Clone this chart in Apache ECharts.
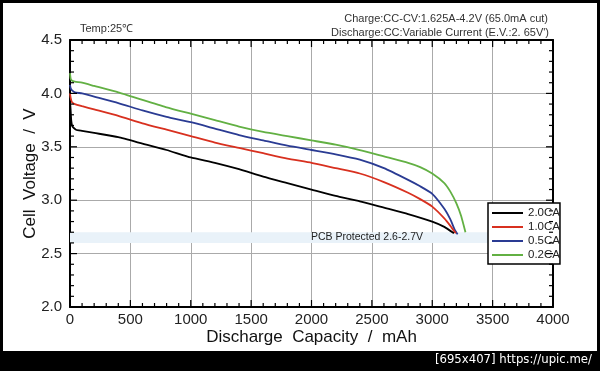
<!DOCTYPE html>
<html>
<head>
<meta charset="utf-8">
<script src="https://cdn.jsdelivr.net/npm/echarts@6/dist/echarts.min.js"></script>
<style>
html,body{margin:0;padding:0;background:#000;}
#chart{width:600px;height:371px;}
</style>
</head>
<body>
<div id="chart"></div>
<script>
// ---- data (capacity in mAh, voltage in V) ----
const seriesNames = ['2.0CA', '1.0CA', '0.5CA', '0.2CA'];

const cap20 = [0, 5, 10, 20, 50, 100, 200, 400, 600, 800, 1000, 1200, 1400, 1600, 1800, 2000, 2200, 2400, 2600, 2800, 3000, 3100, 3180];
const volt20 = [3.93, 3.85, 3.75, 3.69, 3.66, 3.65, 3.63, 3.59, 3.53, 3.47, 3.40, 3.35, 3.29, 3.22, 3.16, 3.10, 3.04, 2.99, 2.93, 2.87, 2.80, 2.75, 2.69];

const cap10 = [0, 5, 15, 40, 100, 200, 400, 600, 800, 1000, 1200, 1400, 1600, 1800, 2000, 2200, 2400, 2600, 2800, 2900, 3000, 3100, 3150, 3195];
const volt10 = [4.00, 3.96, 3.92, 3.90, 3.88, 3.85, 3.79, 3.72, 3.66, 3.60, 3.54, 3.49, 3.44, 3.39, 3.35, 3.30, 3.25, 3.17, 3.07, 3.01, 2.94, 2.83, 2.76, 2.69];

const cap05 = [0, 5, 15, 40, 100, 200, 400, 600, 800, 1000, 1200, 1400, 1600, 1800, 2000, 2200, 2400, 2600, 2800, 2900, 3000, 3100, 3150, 3188, 3210];
const volt05 = [4.08, 4.05, 4.03, 4.01, 4.00, 3.97, 3.91, 3.84, 3.78, 3.73, 3.67, 3.61, 3.56, 3.51, 3.47, 3.43, 3.38, 3.30, 3.19, 3.13, 3.06, 2.92, 2.82, 2.72, 2.68];

const cap02 = [0, 5, 15, 40, 100, 200, 400, 600, 800, 1000, 1200, 1400, 1600, 1800, 2000, 2200, 2400, 2600, 2800, 2900, 3000, 3100, 3150, 3200, 3240, 3275];
const volt02 = [4.19, 4.14, 4.12, 4.11, 4.10, 4.07, 4.01, 3.94, 3.87, 3.81, 3.75, 3.69, 3.64, 3.60, 3.56, 3.52, 3.47, 3.41, 3.35, 3.31, 3.25, 3.16, 3.08, 2.97, 2.85, 2.70];

const xTicks = [0, 500, 1000, 1500, 2000, 2500, 3000, 3500, 4000];
const yTicks = [2.0, 2.5, 3.0, 3.5, 4.0, 4.5];
const xMinorStep = 100;
const yMinorStep = 0.1;

const pcbBand = [2.6, 2.7];
const pcbBandCapRange = [0, 3480];
const pcbLabel = 'PCB Protected 2.6-2.7V';

const titleTemp = 'Temp:25\u2103';
const titleCharge = 'Charge:CC-CV:1.625A-4.2V (65.0mA cut)';
const titleDischarge = "Discharge:CC:Variable Current (E.V.:2. 65V')";
const footerText = '[695x407] https://upic.me/';

const colors = ['#000000', '#d8301f', '#2a3b93', '#62b043'];

function pairs(xs, ys) { return xs.map((x, i) => [x, ys[i]]); }

const FONT = '"Liberation Sans", Arial, sans-serif';
const chart = echarts.init(document.getElementById('chart'));

const xMin = xTicks[0], xMax = xTicks[xTicks.length - 1];
const yMin = yTicks[0], yMax = yTicks[yTicks.length - 1];

function lineSeries(i, xs, ys, extra) {
  return Object.assign({
    name: seriesNames[i], type: 'line', data: pairs(xs, ys), showSymbol: false,
    smooth: 0.15,
    lineStyle: { width: 1.8, color: colors[i] }, itemStyle: { color: colors[i] }, z: 5 - i
  }, extra || {});
}

const axisLineStyle = { color: '#000', width: 2 };

const frameGraphics = [
  { type: 'rect', shape: { x: 0, y: 0, width: 600, height: 3 }, style: { fill: '#000' } },
  { type: 'rect', shape: { x: 0, y: 0, width: 3, height: 371 }, style: { fill: '#000' } },
  { type: 'rect', shape: { x: 597, y: 0, width: 3, height: 371 }, style: { fill: '#000' } },
  { type: 'rect', shape: { x: 0, y: 351, width: 600, height: 20 }, style: { fill: '#000' } },
  { type: 'text', right: 8, top: 353, z: 10, style: { text: footerText, fill: '#fff', font: '13px "DejaVu Sans Condensed", sans-serif' } }
];

const option = {
  backgroundColor: '#fff',
  animation: false,
  textStyle: { fontFamily: FONT },
  title: [
    { text: titleTemp, left: 75, top: 18, textStyle: { fontSize: 11, fontWeight: 'normal', color: '#333', fontFamily: FONT } },
    { text: titleCharge, right: 47, top: 8, textStyle: { fontSize: 11, fontWeight: 'normal', color: '#333', fontFamily: FONT } },
    { text: titleDischarge, right: 46, top: 22, textStyle: { fontSize: 11, fontWeight: 'normal', color: '#333', fontFamily: FONT } }
  ],
  graphic: frameGraphics,
  grid: { left: 70, right: 47, top: 40, bottom: 64 },
  legend: {
    data: seriesNames,
    orient: 'vertical',
    left: 488, top: 203,
    padding: [4, 0, 3, 4],
    itemGap: 2,
    itemWidth: 31, itemHeight: 2,
    icon: 'rect',
    borderColor: '#000', borderWidth: 1.5,
    backgroundColor: '#fff',
    textStyle: { fontSize: 11.5, color: '#222', fontFamily: FONT },
    z: 10
  },
  xAxis: [
    {
      type: 'value', min: xMin, max: xMax, interval: 500,
      name: 'Discharge  Capacity  /  mAh', nameLocation: 'middle', nameGap: 22, nameMoveOverlap: false,
      nameTextStyle: { fontSize: 17, color: '#111', fontFamily: FONT },
      axisLine: { show: true, onZero: false, lineStyle: axisLineStyle },
      axisTick: { show: false },
      axisLabel: { fontSize: 15, color: '#222', margin: 5, fontFamily: FONT,
        formatter: v => xTicks.includes(v) ? String(v) : '' },
      splitLine: { show: true, lineStyle: { color: '#aaa', width: 1 } }
    },
    {
      type: 'value', min: xMin, max: xMax, interval: 500, position: 'top',
      axisLine: { show: true, onZero: false, lineStyle: axisLineStyle },
      axisTick: { show: false },
      axisLabel: { show: false },
      splitLine: { show: false }
    }
  ],
  yAxis: [
    {
      type: 'value', min: yMin, max: yMax, interval: 0.5,
      name: 'Cell  Voltage  /  V', nameLocation: 'middle', nameGap: 31, nameMoveOverlap: false,
      nameTextStyle: { fontSize: 17, color: '#111', fontFamily: FONT },
      axisLine: { show: true, onZero: false, lineStyle: axisLineStyle },
      axisTick: { show: false },
      axisLabel: { fontSize: 15, color: '#222', margin: 8, fontFamily: FONT,
        formatter: v => yTicks.some(t => Math.abs(t - v) < 1e-9) ? v.toFixed(1) : '' },
      splitLine: { show: true, lineStyle: { color: '#aaa', width: 1 } }
    },
    {
      type: 'value', min: yMin, max: yMax, interval: 0.5, position: 'right',
      axisLine: { show: true, onZero: false, lineStyle: axisLineStyle },
      axisTick: { show: false },
      axisLabel: { show: false },
      splitLine: { show: false }
    }
  ],
  series: [
    lineSeries(0, cap20, volt20, {
      markArea: {
        silent: true,
        itemStyle: { color: '#e9f2f9' },
        label: { show: true, position: 'insideLeft', offset: [236, 0], fontSize: 10.5, color: '#222', fontFamily: FONT },
        data: [[
          { name: pcbLabel, xAxis: pcbBandCapRange[0], yAxis: pcbBand[0] },
          { xAxis: pcbBandCapRange[1], yAxis: pcbBand[1] }
        ]]
      }
    }),
    lineSeries(1, cap10, volt10),
    lineSeries(2, cap05, volt05),
    lineSeries(3, cap02, volt02)
  ]
};
chart.setOption(option);

// tick marks on all four sides, positioned through the chart's own axis scales
const tickGraphics = [];
function px(x, y) { return chart.convertToPixel({ gridIndex: 0 }, [x, y]); }
function addTick(p, dx, dy) {
  tickGraphics.push({
    type: 'line', z: 50, silent: true,
    shape: { x1: p[0], y1: p[1], x2: p[0] + dx, y2: p[1] + dy },
    style: { stroke: '#000', lineWidth: 1.2 }
  });
}
for (let k = 0; k * xMinorStep <= xMax - xMin + 1e-9; k++) {
  const v = xMin + k * xMinorStep;
  const len = xTicks.some(t => Math.abs(t - v) < 1e-6) ? 7 : 4;
  addTick(px(v, yMin), 0, -len);
  addTick(px(v, yMax), 0, len);
}
for (let k = 0; k * yMinorStep <= yMax - yMin + 1e-9; k++) {
  const v = +(yMin + k * yMinorStep).toFixed(2);
  const len = yTicks.some(t => Math.abs(t - v) < 1e-6) ? 7 : 4;
  addTick(px(xMin, v), len, 0);
  addTick(px(xMax, v), -len, 0);
}
chart.setOption({ graphic: frameGraphics.concat(tickGraphics) });
</script>
</body>
</html>
